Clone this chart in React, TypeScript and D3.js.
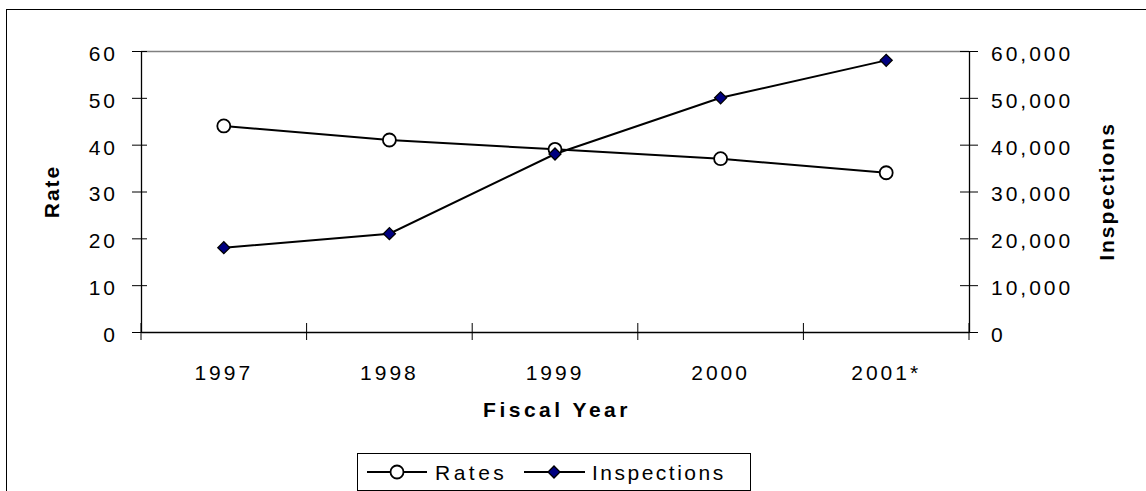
import { useEffect, useRef } from 'react'
import * as d3 from 'd3'

// Chart data
const years = ['1997', '1998', '1999', '2000', '2001*']
const rates = [44, 41, 39, 37, 34]
const inspections = [18000, 21000, 38000, 50000, 58000]
const rateTicks = [0, 10, 20, 30, 40, 50, 60]
const inspectionTicks = [0, 10000, 20000, 30000, 40000, 50000, 60000]

const W = 1146
const H = 491
const FONT = '"Liberation Sans", Arial, sans-serif'

const App = () => {
  const svgRef = useRef<SVGSVGElement>(null)

  useEffect(() => {
    if (!svgRef.current) return
    const svg = d3.select(svgRef.current)
    svg.selectAll('*').remove()

    const margin = { top: 51, right: 177, bottom: 159, left: 141 }
    const innerWidth = W - margin.left - margin.right
    const innerHeight = H - margin.top - margin.bottom

    // outer frame
    svg.append('rect')
      .attr('x', 6.5).attr('y', 9.5)
      .attr('width', W + 10).attr('height', H + 10)
      .attr('fill', 'none').attr('stroke', '#000').attr('stroke-width', 1)

    const g = svg.append('g').attr('transform', `translate(${margin.left},${margin.top})`)

    const x = d3.scaleBand().domain(years).range([0, innerWidth])
    const yL = d3.scaleLinear().domain([0, 60]).range([innerHeight, 0])
    const yR = d3.scaleLinear().domain([0, 60000]).range([innerHeight, 0])

    // top border line of plot area
    g.append('line')
      .attr('x1', 0).attr('x2', innerWidth)
      .attr('y1', 0.5).attr('y2', 0.5)
      .attr('stroke', '#808080').attr('stroke-width', 1.5)

    const styleAxis = (sel: d3.Selection<SVGGElement, unknown, null, undefined>) => {
      sel.select('.domain').attr('stroke', '#000').attr('stroke-width', 1.3)
      sel.selectAll('.tick line').attr('stroke', '#000')
      sel.selectAll('.tick text')
        .attr('font-family', FONT).attr('font-size', 21)
        .attr('letter-spacing', 3).attr('fill', '#000')
    }

    // left axis
    const left = g.append('g')
      .call(d3.axisLeft(yL).tickValues(rateTicks).tickSize(9).tickSizeOuter(0).tickPadding(14))
    left.selectAll('.tick line').attr('x2', 6).attr('x1', -9)
    styleAxis(left)
    left.selectAll('.tick text').attr('dy', '0.45em')

    // right axis
    const right = g.append('g')
      .attr('transform', `translate(${innerWidth},0)`)
      .call(d3.axisRight(yR).tickValues(inspectionTicks).tickFormat(d3.format(','))
        .tickSize(9).tickSizeOuter(0).tickPadding(13))
    right.selectAll('.tick line').attr('x1', -9).attr('x2', 9)
    styleAxis(right)
    right.selectAll('.tick text').attr('dy', '0.45em')

    // bottom axis
    const bottom = g.append('g')
      .attr('transform', `translate(0,${innerHeight})`)
      .call(d3.axisBottom(x).tickSize(0).tickSizeOuter(0).tickPadding(33))
    styleAxis(bottom)
    const bounds = years.map(y => x(y) as number).concat([innerWidth])
    bottom.selectAll('line.sep')
      .data(bounds)
      .enter()
      .append('line')
      .attr('class', 'sep')
      .attr('x1', d => d).attr('x2', d => d)
      .attr('y1', -9).attr('y2', 8)
      .attr('stroke', '#000')

    const cx = (d: string) => (x(d) as number) + x.bandwidth() / 2

    // Inspections line
    const lineR = d3.line<number>().x((_, i) => cx(years[i])).y(d => yR(d))
    g.append('path').datum(inspections)
      .attr('d', lineR).attr('fill', 'none').attr('stroke', '#000').attr('stroke-width', 2)

    // Rates line
    const lineL = d3.line<number>().x((_, i) => cx(years[i])).y(d => yL(d))
    g.append('path').datum(rates)
      .attr('d', lineL).attr('fill', 'none').attr('stroke', '#000').attr('stroke-width', 2)

    g.selectAll('circle.rate')
      .data(rates)
      .enter()
      .append('circle')
      .attr('class', 'rate')
      .attr('cx', (_, i) => cx(years[i]))
      .attr('cy', d => yL(d))
      .attr('r', 6.5)
      .attr('fill', '#fff').attr('stroke', '#000').attr('stroke-width', 1.8)

    const diamond = d3.symbol().type(d3.symbolSquare).size(72)
    g.selectAll('path.insp')
      .data(inspections)
      .enter()
      .append('path')
      .attr('class', 'insp')
      .attr('d', diamond)
      .attr('transform', (d, i) => `translate(${cx(years[i])},${yR(d)}) rotate(45)`)
      .attr('fill', '#000080').attr('stroke', '#000').attr('stroke-width', 1.3)

    // axis titles
    svg.append('text')
      .attr('transform', `translate(59,${margin.top + innerHeight / 2}) rotate(-90)`)
      .attr('text-anchor', 'middle')
      .attr('font-family', FONT).attr('font-size', 21).attr('font-weight', 'bold')
      .attr('letter-spacing', 2)
      .text('Rate')

    svg.append('text')
      .attr('transform', `translate(1114,${margin.top + innerHeight / 2}) rotate(-90)`)
      .attr('text-anchor', 'middle')
      .attr('font-family', FONT).attr('font-size', 21).attr('font-weight', 'bold')
      .attr('letter-spacing', 2)
      .text('Inspections')

    svg.append('text')
      .attr('x', margin.left + innerWidth / 2 + 2).attr('y', 417)
      .attr('text-anchor', 'middle')
      .attr('font-family', FONT).attr('font-size', 21).attr('font-weight', 'bold')
      .attr('letter-spacing', 3.5)
      .text('Fiscal Year')

    // legend
    const legend = svg.append('g').attr('transform', 'translate(357,453)')
    legend.append('rect')
      .attr('x', 0.5).attr('y', 0.5).attr('width', 393).attr('height', 37)
      .attr('fill', '#fff').attr('stroke', '#000').attr('stroke-width', 1)

    legend.append('line').attr('x1', 10).attr('x2', 70).attr('y1', 19).attr('y2', 19)
      .attr('stroke', '#000').attr('stroke-width', 2)
    legend.append('circle').attr('cx', 40).attr('cy', 19).attr('r', 6.5)
      .attr('fill', '#fff').attr('stroke', '#000').attr('stroke-width', 1.8)
    legend.append('text').attr('x', 78).attr('y', 27)
      .attr('font-family', FONT).attr('font-size', 21).attr('letter-spacing', 3.5)
      .text('Rates')

    legend.append('line').attr('x1', 167).attr('x2', 228).attr('y1', 19).attr('y2', 19)
      .attr('stroke', '#000').attr('stroke-width', 2)
    legend.append('path').attr('d', diamond)
      .attr('transform', 'translate(197,19) rotate(45)')
      .attr('fill', '#000080').attr('stroke', '#000').attr('stroke-width', 1.3)
    legend.append('text').attr('x', 235).attr('y', 27)
      .attr('font-family', FONT).attr('font-size', 21).attr('letter-spacing', 2.5)
      .text('Inspections')
  }, [])

  return (
    <svg
      ref={svgRef}
      width={W}
      height={H}
      style={{ position: 'absolute', left: 0, top: 0, background: '#fff' }}
    />
  )
}

export default App
